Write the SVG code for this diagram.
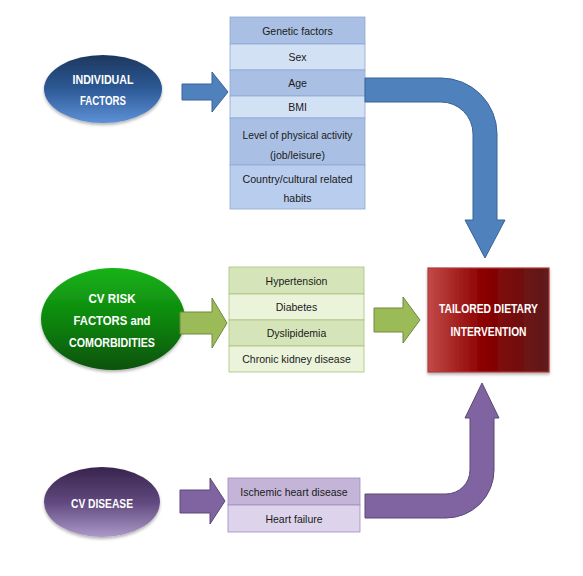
<svg xmlns="http://www.w3.org/2000/svg" width="583" height="576" viewBox="0 0 583 576">
<defs>
<linearGradient id="gBlue" x1="0" y1="0" x2="0" y2="1">
<stop offset="0" stop-color="#1d375e"/><stop offset="0.5" stop-color="#2d5a96"/><stop offset="1" stop-color="#5e91d8"/>
</linearGradient>
<linearGradient id="gGreen" x1="0" y1="0" x2="0" y2="1">
<stop offset="0" stop-color="#19b319"/><stop offset="0.55" stop-color="#0c820c"/><stop offset="1" stop-color="#075207"/>
</linearGradient>
<linearGradient id="gPurple" x1="0" y1="0" x2="0" y2="1">
<stop offset="0" stop-color="#38244d"/><stop offset="0.5" stop-color="#60487e"/><stop offset="1" stop-color="#ab99c8"/>
</linearGradient>
<linearGradient id="gRed" x1="0" y1="0" x2="1" y2="0">
<stop offset="0" stop-color="#c24a48"/><stop offset="0.45" stop-color="#8c0000"/><stop offset="1" stop-color="#5c1c1c"/>
</linearGradient>
<filter id="sh" x="-20%" y="-20%" width="140%" height="150%">
<feDropShadow dx="0" dy="2" stdDeviation="1.5" flood-color="#000" flood-opacity="0.3"/>
</filter>
</defs>
<style>
.lbl{font-family:"Liberation Sans",Arial,sans-serif;font-weight:bold;fill:#fff;text-anchor:middle;font-size:13.5px}
.cell{font-family:"Liberation Sans",Arial,sans-serif;fill:#1a1a1a;text-anchor:middle;font-size:10.5px}
.bA{fill:#a9c0e4;stroke:#8ea9d2;stroke-width:0.8}
.bB{fill:#d3e1f5;stroke:#8ea9d2;stroke-width:0.8}
.bC{fill:#b9cdef;stroke:#8ea9d2;stroke-width:0.8}
.gA{fill:#d6e5b9;stroke:#a9c27a;stroke-width:0.8}
.gB{fill:#ebf4db;stroke:#a9c27a;stroke-width:0.8}
.pA{fill:#c3b4d8;stroke:#a08cbe;stroke-width:0.8}
.pB{fill:#ddd3ea;stroke:#a08cbe;stroke-width:0.8}
.arB{fill:#4f81bd;stroke:#3a6395;stroke-width:1}
.arG{fill:#9bbb59;stroke:#71893f;stroke-width:1}
.arP{fill:#8064a2;stroke:#5c4776;stroke-width:1}
</style>
<rect width="583" height="576" fill="#fff"/>

<g id="individual-factors">
<ellipse cx="103" cy="89" rx="59" ry="34" fill="url(#gBlue)" filter="url(#sh)"/>
<text class="lbl" x="103" y="84" textLength="61" lengthAdjust="spacingAndGlyphs">INDIVIDUAL</text>
<text class="lbl" x="103" y="105" textLength="46" lengthAdjust="spacingAndGlyphs">FACTORS</text>
</g>

<g id="individual-list">
<rect class="bA" x="230" y="17" width="135" height="27"/>
<rect class="bB" x="230" y="44" width="135" height="26"/>
<rect class="bA" x="230" y="70" width="135" height="26"/>
<rect class="bB" x="230" y="96" width="135" height="22"/>
<rect class="bA" x="230" y="118" width="135" height="47"/>
<rect class="bC" x="230" y="165" width="135" height="44"/>
<text class="cell" x="297.5" y="34.5">Genetic factors</text>
<text class="cell" x="297.5" y="61">Sex</text>
<text class="cell" x="297.5" y="87">Age</text>
<text class="cell" x="297.5" y="111">BMI</text>
<text class="cell" x="297.5" y="139" textLength="110" lengthAdjust="spacingAndGlyphs">Level of physical activity</text>
<text class="cell" x="297.5" y="159">(job/leisure)</text>
<text class="cell" x="297.5" y="183" textLength="110" lengthAdjust="spacingAndGlyphs">Country/cultural related</text>
<text class="cell" x="297.5" y="202">habits</text>
</g>

<g id="cv-risk-factors">
<ellipse cx="113" cy="319" rx="72" ry="51" fill="url(#gGreen)" filter="url(#sh)"/>
<text class="lbl" x="112" y="303" textLength="47" lengthAdjust="spacingAndGlyphs">CV RISK</text>
<text class="lbl" x="112" y="325" textLength="77" lengthAdjust="spacingAndGlyphs">FACTORS and</text>
<text class="lbl" x="112" y="347" textLength="86" lengthAdjust="spacingAndGlyphs">COMORBIDITIES</text>
</g>

<g id="cv-risk-list">
<rect class="gA" x="229" y="267" width="135" height="27"/>
<rect class="gB" x="229" y="294" width="135" height="26"/>
<rect class="gA" x="229" y="320" width="135" height="26"/>
<rect class="gB" x="229" y="346" width="135" height="26"/>
<text class="cell" x="296.5" y="284.5">Hypertension</text>
<text class="cell" x="296.5" y="311">Diabetes</text>
<text class="cell" x="296.5" y="337">Dyslipidemia</text>
<text class="cell" x="296.5" y="363">Chronic kidney disease</text>
</g>

<g id="cv-disease">
<ellipse cx="102" cy="502" rx="58" ry="35" fill="url(#gPurple)" filter="url(#sh)"/>
<text class="lbl" x="102" y="507.5" textLength="62" lengthAdjust="spacingAndGlyphs">CV DISEASE</text>
</g>

<g id="cv-disease-list">
<rect class="pA" x="228" y="478" width="132" height="27"/>
<rect class="pB" x="228" y="505" width="132" height="27"/>
<text class="cell" x="294" y="495.5">Ischemic heart disease</text>
<text class="cell" x="294" y="522.5">Heart failure</text>
</g>

<g id="tailored-intervention">
<rect x="428" y="268" width="121" height="104" fill="url(#gRed)" stroke="#b03a38" stroke-width="1.2" filter="url(#sh)"/>
<text class="lbl" x="488.5" y="313" textLength="99" lengthAdjust="spacingAndGlyphs">TAILORED DIETARY</text>
<text class="lbl" x="488.5" y="336" textLength="76" lengthAdjust="spacingAndGlyphs">INTERVENTION</text>
</g>

<g id="connectors">
<path class="arB" d="M182,84 H212 V72 L228,92 L212,112 V100 H182 Z"/>
<path class="arB" d="M365,78 H441 A56,56 0 0 1 497,134 V220 H505 L485,258 L465,220 H473 V134 A32,32 0 0 0 441,102 H365 Z"/>
<path class="arG" d="M180,312 H212 V298 L227,323 L212,348 V334 H180 Z"/>
<path class="arG" d="M374,308 H403 V297 L420,320 L403,343 V332 H374 Z"/>
<path class="arP" d="M180,490 H210 V478 L225,501 L210,524 V513 H180 Z"/>
<path class="arP" d="M365,494 H446 A24,24 0 0 0 470,470 V418 H465 L482,383 L499,418 H494 V470 A48,48 0 0 1 446,518 H365 Z"/>
</g>
</svg>
